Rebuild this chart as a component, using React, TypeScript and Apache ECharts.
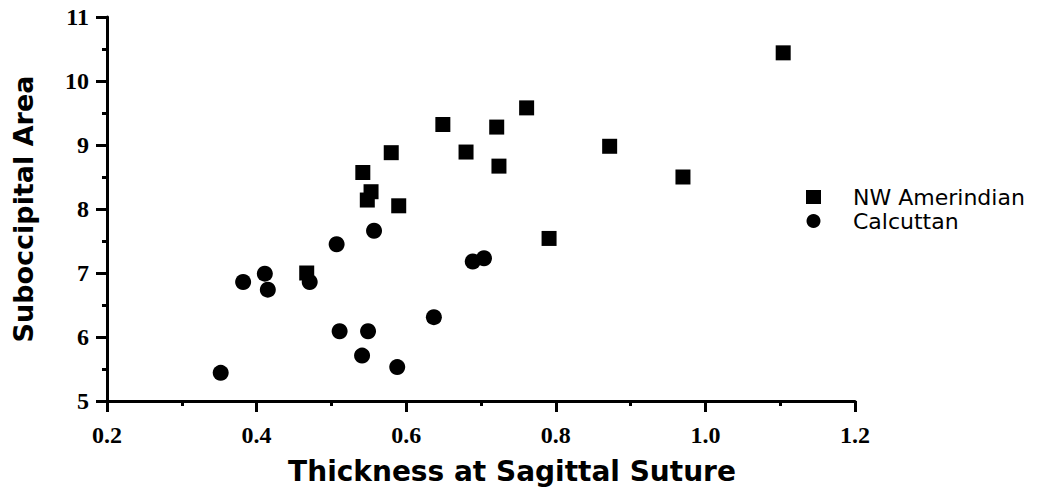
import React, { useEffect, useRef } from "react";
import * as echarts from "echarts";

const seriesNames = ["NW Amerindian", "Calcuttan"];

const amerindian: [number, number][] = [
  [1.104, 10.44],
  [0.761, 9.58],
  [0.649, 9.32],
  [0.721, 9.28],
  [0.58, 8.88],
  [0.68, 8.89],
  [0.872, 8.98],
  [0.724, 8.67],
  [0.542, 8.57],
  [0.97, 8.5],
  [0.59, 8.05],
  [0.791, 7.54],
  [0.548, 8.14],
  [0.553, 8.27],
  [0.467, 7.0],
];

const calcuttan: [number, number][] = [
  [0.352, 5.44],
  [0.382, 6.86],
  [0.411, 6.99],
  [0.415, 6.74],
  [0.471, 6.86],
  [0.507, 7.45],
  [0.557, 7.66],
  [0.689, 7.18],
  [0.704, 7.23],
  [0.637, 6.31],
  [0.511, 6.09],
  [0.549, 6.09],
  [0.541, 5.71],
  [0.588, 5.53],
];

const xTickLabels = ["0.2", "0.4", "0.6", "0.8", "1.0", "1.2"];
const xTitle = "Thickness at Sagittal Suture";
const yTitle = "Suboccipital Area";

export default function App() {
  const ref = useRef<HTMLDivElement>(null);
  useEffect(() => {
    if (!ref.current) return;
    const chart = echarts.init(ref.current, null, { renderer: "svg" });
    const axisCommon = {
      axisLine: { show: true, lineStyle: { color: "#000", width: 3 } },
      axisTick: { show: true, inside: false, length: 11, lineStyle: { color: "#000", width: 3 } },
      minorTick: { show: true, splitNumber: 2, length: 5, lineStyle: { color: "#000", width: 3 } },
      splitLine: { show: false },
      minorSplitLine: { show: false },
    };
    chart.setOption({
      animation: false,
      backgroundColor: "#fff",
      grid: { left: 107, top: 17, right: 206, bottom: 89, containLabel: false },
      xAxis: {
        type: "value",
        min: 0.2,
        max: 1.2,
        interval: 0.2,
        ...axisCommon,
        axisLabel: {
          color: "#000",
          fontFamily: "Liberation Serif",
          fontWeight: "bold",
          fontSize: 24,
          margin: 22,
          formatter: (v: number) => {
            const i = Math.round((v - 0.2) / 0.2);
            return xTickLabels[i] ?? v.toFixed(1);
          },
        },
        name: xTitle,
        nameLocation: "middle",
        nameGap: 56,
        nameTextStyle: {
          color: "#000",
          fontFamily: "DejaVu Sans",
          fontWeight: "bold",
          fontSize: 28,
          padding: [0, 0, 0, 62],
        },
      },
      yAxis: {
        type: "value",
        min: 5,
        max: 11,
        interval: 1,
        ...axisCommon,
        axisLabel: {
          color: "#000",
          fontFamily: "Liberation Serif",
          fontWeight: "bold",
          fontSize: 24,
          margin: 18,
        },
        name: yTitle,
        nameLocation: "middle",
        nameGap: 70,
        nameTextStyle: {
          color: "#000",
          fontFamily: "DejaVu Sans",
          fontWeight: "bold",
          fontSize: 27,
        },
      },
      legend: {
        orient: "vertical",
        left: 801,
        top: 181,
        itemGap: 2,
        itemWidth: 15,
        itemHeight: 14,
        textStyle: {
          color: "#000",
          fontFamily: "DejaVu Sans",
          fontSize: 22,
          lineHeight: 21,
          padding: [0, 0, 0, 27],
        },
        data: [
          { name: seriesNames[0], icon: "rect" },
          { name: seriesNames[1], icon: "circle" },
        ],
      },
      series: [
        {
          name: seriesNames[0],
          type: "scatter",
          symbol: "rect",
          symbolSize: 15,
          itemStyle: { color: "#000", opacity: 1 },
          data: amerindian,
        },
        {
          name: seriesNames[1],
          type: "scatter",
          symbol: "circle",
          symbolSize: 16,
          itemStyle: { color: "#000", opacity: 1 },
          data: calcuttan,
        },
      ],
    });
    return () => chart.dispose();
  }, []);
  return (
    <div
      ref={ref}
      style={{ position: "fixed", left: 0, top: 0, width: 1061, height: 490, background: "#fff" }}
    />
  );
}
